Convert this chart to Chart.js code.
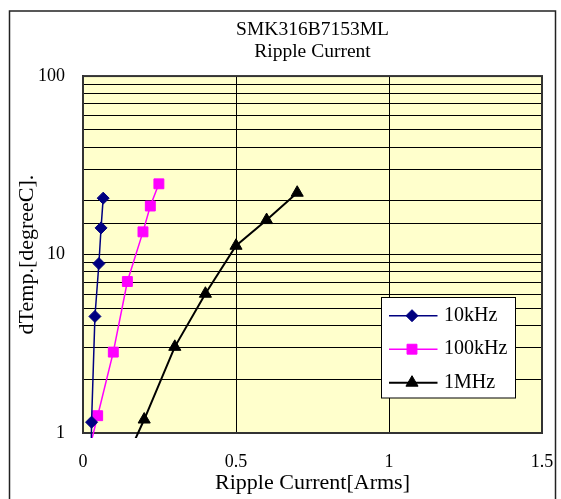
<!DOCTYPE html>
<html>
<head>
<meta charset="utf-8">
<title>SMK316B7153ML Ripple Current</title>
<script src="https://cdn.jsdelivr.net/npm/chart.js@4.4.1/dist/chart.umd.min.js"></script>
<style>
	html, body { margin: 0; padding: 0; background: #fff; }
	#wrap { width: 561px; height: 499px; position: relative; }
</style>
</head>
<body>
<div id="wrap"><canvas id="graficoRipple"></canvas></div>
<script>
// valores (x = corrente Arms, y = dTemp degreeC)
// o primeiro ponto de cada serie fica abaixo de 1, so a linha aparece
var nomesSeries = ['10kHz', '100kHz', '1MHz']
var corrente10k = [0.025, 0.028, 0.039, 0.052, 0.059, 0.066]
var temp10k = [0.5, 1.15, 4.5, 8.9, 14.1, 20.7]
var corrente100k = [0.02, 0.048, 0.099, 0.145, 0.196, 0.22, 0.248]
var temp100k = [0.8, 1.25, 2.84, 7.06, 13.4, 18.7, 24.9]
var corrente1M = [0.1, 0.2, 0.3, 0.4, 0.5, 0.6, 0.7]
var temp1M = [0.5, 1.19, 3.04, 6.03, 11.2, 15.6, 22.2]
var ticksX = [0, 0.5, 1, 1.5]
var ticksYRotulo = [1, 10, 100]

var fonte = 'Liberation Serif, Times New Roman, serif'

function montaPontos(xs, ys) {
	var pontos = []
	for (var i = 0; i < xs.length; i++) {
		pontos.push({ x: xs[i], y: ys[i] })
	}
	return pontos
}

function raioPonto(r) {
	return function (ctx) {
		return ctx.raw && ctx.raw.y < 1 ? 0 : r
	}
}

function serie(nome, xs, ys, cor, estilo, raio, largura) {
	return {
		label: nome,
		data: montaPontos(xs, ys),
		borderColor: cor,
		backgroundColor: cor,
		borderWidth: largura,
		pointStyle: estilo,
		pointRadius: raioPonto(raio),
		pointHoverRadius: raioPonto(raio),
		pointBackgroundColor: cor,
		pointBorderColor: cor,
		pointBorderWidth: 1,
		legendaRaio: raio,
		tension: 0,
		fill: false,
		clip: { left: 10, top: 10, right: 10, bottom: 5 },
	}
}

var fundoPlugin = {
	id: 'fundo',
	beforeDraw: function (chart) {
		var ctx = chart.ctx
		var a = chart.chartArea
		ctx.save()
		ctx.fillStyle = '#fff'
		ctx.fillRect(0, 0, chart.width, chart.height)
		ctx.strokeStyle = '#222'
		ctx.lineWidth = 1.5
		ctx.strokeRect(9.5, 11, 546, 530)
		ctx.fillStyle = '#FFFFCC'
		ctx.fillRect(a.left, a.top, a.right - a.left, a.bottom - a.top)
		ctx.restore()
	},
	beforeDatasetsDraw: function (chart) {
		var ctx = chart.ctx
		var a = chart.chartArea
		ctx.save()
		ctx.strokeStyle = '#333'
		ctx.lineWidth = 2
		ctx.strokeRect(a.left, a.top, a.right - a.left, a.bottom - a.top)
		ctx.restore()
	}
}

var legendaPlugin = {
	id: 'legenda',
	afterDraw: function (chart) {
		var ctx = chart.ctx
		var caixa = { x: 381.5, y: 297.5, w: 134, h: 100.5 }
		ctx.save()
		ctx.fillStyle = '#fff'
		ctx.fillRect(caixa.x, caixa.y, caixa.w, caixa.h)
		ctx.strokeStyle = '#000'
		ctx.lineWidth = 1
		ctx.strokeRect(caixa.x, caixa.y, caixa.w, caixa.h)
		chart.data.datasets.forEach(function (ds, i) {
			var y = caixa.y + 18.2 + i * 33.5
			ctx.strokeStyle = ds.borderColor
			ctx.lineWidth = ds.borderWidth
			ctx.beginPath()
			ctx.moveTo(caixa.x + 7.5, y)
			ctx.lineTo(caixa.x + 56, y)
			ctx.stroke()
			ctx.fillStyle = ds.pointBackgroundColor
			ctx.strokeStyle = ds.pointBorderColor
			ctx.lineWidth = 1
			Chart.helpers.drawPoint(ctx, {
				pointStyle: ds.pointStyle,
				radius: ds.legendaRaio,
				rotation: 0,
				borderWidth: 1
			}, caixa.x + 30.5, y)
			ctx.fillStyle = '#000'
			ctx.font = '20px ' + fonte
			ctx.textAlign = 'left'
			ctx.textBaseline = 'middle'
			ctx.fillText(ds.label, caixa.x + 62.5, y)
		})
		ctx.restore()
	}
}

var configChart = {
	type: 'line',
	data: {
		datasets: [
			serie(nomesSeries[0], corrente10k, temp10k, '#000080', 'rectRot', 6, 1.5),
			serie(nomesSeries[1], corrente100k, temp100k, '#FF00FF', 'rect', 7, 1.5),
			serie(nomesSeries[2], corrente1M, temp1M, '#000000', 'triangle', 7, 2),
		]
	},
	options: {
		responsive: true,
		maintainAspectRatio: false,
		animation: false,
		layout: {
			padding: { left: 0, right: 19, top: 0, bottom: 0 }
		},
		plugins: {
			legend: { display: false },
			tooltip: { enabled: false },
			title: {
				display: true,
				fullSize: false,
				text: ['SMK316B7153ML', 'Ripple Current'],
				color: '#000',
				font: { family: fonte, size: 19.5, weight: 'normal', lineHeight: 1.13 },
				padding: { top: 19, bottom: 13 }
			}
		},
		scales: {
			x: {
				type: 'linear',
				min: 0,
				max: 1.5,
				afterFit: function (escala) {
					escala.height = 66
					escala.paddingLeft = 0
					escala.paddingRight = 0
				},
				afterBuildTicks: function (escala) {
					escala.ticks = ticksX.map(function (v) { return { value: v } })
				},
				ticks: {
					padding: 18,
					color: '#000',
					font: { family: fonte, size: 18 },
					maxRotation: 0,
					autoSkip: false,
					callback: function (v) { return String(v) }
				},
				grid: { color: '#000', lineWidth: 1, drawTicks: false },
				border: { color: '#000', width: 2 },
				title: {
					display: true,
					text: 'Ripple Current[Arms]',
					color: '#000',
					font: { family: fonte, size: 22, weight: 'normal' },
					padding: { top: 0, bottom: 3 }
				}
			},
			y: {
				type: 'logarithmic',
				min: 1,
				max: 100,
				afterFit: function (escala) {
					escala.width = 83
					escala.paddingTop = 0
					escala.paddingBottom = 0
				},
				ticks: {
					padding: 18,
					color: '#000',
					autoSkip: false,
					font: { family: fonte, size: 18 },
					callback: function (v) {
						return ticksYRotulo.indexOf(v) >= 0 ? String(v) : ''
					}
				},
				grid: { color: '#000', lineWidth: 1, drawTicks: false },
				border: { color: '#000', width: 2 },
				title: {
					display: true,
					text: 'dTemp.[degreeC].',
					color: '#000',
					font: { family: fonte, size: 22, weight: 'normal' },
					padding: { top: 14, bottom: 0 }
				}
			}
		}
	},
	plugins: [fundoPlugin, legendaPlugin]
}

var ctx = document.getElementById('graficoRipple').getContext('2d')
window.graficoRipple = new Chart(ctx, configChart)
</script>
</body>
</html>
